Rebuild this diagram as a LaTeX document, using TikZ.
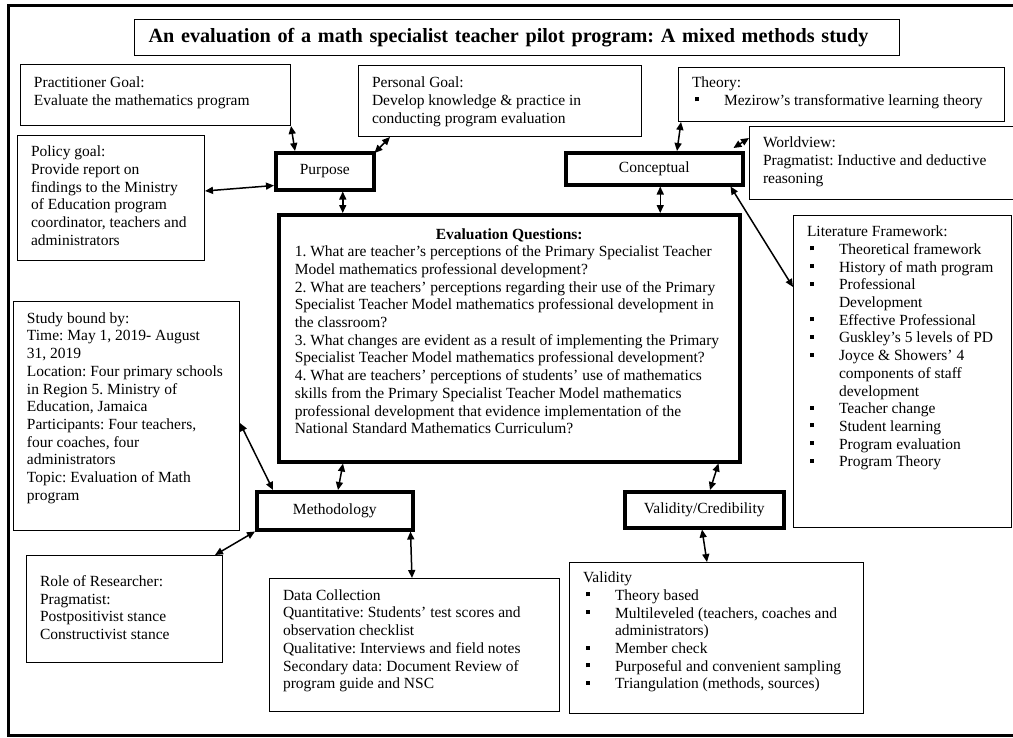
\documentclass[tikz,border=0pt]{standalone}
\usepackage{fontspec}
\setmainfont{Liberation Serif}
\usepackage{tikz}
\usetikzlibrary{arrows.meta}

% box text: width, height, top gap, text
\newcommand{\boxtext}[4]{\parbox[t][#2][t]{#1}{\frenchspacing\vspace*{#3}\raggedright #4}}
\newcommand{\bitem}[1]{\par\hangindent=32pt\hangafter=1\noindent\hspace*{3pt}\makebox[29pt][l]{\rule[4pt]{4pt}{4pt}}#1}

\tikzset{
	info/.style={draw=black, line width=1pt, anchor=north west, inner xsep=13.5pt, inner ysep=0pt, font=\fontsize{15.5}{17.7}\selectfont},
	head/.style={draw=black, line width=3.5pt, anchor=north west, inner sep=0pt, font=\fontsize{15.5}{17.7}\selectfont},
	dbl/.style={{Triangle[length=8pt,width=7pt]}-{Triangle[length=8pt,width=7pt]}, line width=1.5pt}
}

\begin{document}
\begin{tikzpicture}[x=1pt, y=-1pt]
	\useasboundingbox (0,0) rectangle (1013,737);
	\clip (0,0) rectangle (1013,737);
	\draw[line width=3pt] (8,5) rectangle (1030,735);
	\node[draw=black, line width=1pt, anchor=north west, minimum width=765pt, minimum height=36pt, text width=737pt, align=left, inner xsep=14pt, inner ysep=0pt, font=\bfseries\fontsize{20.2}{22}\selectfont] (title) at (134,19) {\frenchspacing An evaluation of a math specialist teacher pilot program: A mixed methods study};
	% goals
	\node[info] (prac) at (20,64) {\boxtext{243pt}{61pt}{12.5pt}{Practitioner Goal:\\Evaluate the mathematics program}};
	\node[info] (pers) at (358,65) {\boxtext{256pt}{71pt}{11.5pt}{Personal Goal:\\Develop knowledge \& practice in\\conducting program evaluation}};
	\node[info] (policy) at (17,135) {\boxtext{160pt}{125pt}{10.5pt}{Policy goal:\\Provide report on\\findings to the Ministry\\of Education program\\coordinator, teachers and\\administrators}};
	\node[head, minimum width=98pt, minimum height=37pt] (purpose) at (274,151) {Purpose};
	% conceptual side
	\node[info] (theory) at (678,67) {\boxtext{299pt}{54pt}{9.5pt}{Theory:\bitem{Mezirow's transformative learning theory}}};
	\node[info] (world) at (749,126) {\boxtext{253pt}{73pt}{10.5pt}{Worldview:\\Pragmatist: Inductive and deductive\\reasoning}};
	\node[head, minimum width=177pt, minimum height=32pt] (concept) at (564,151) {Conceptual};
	\node[info] (lit) at (793,215) {\boxtext{191pt}{312pt}{10.5pt}{Literature Framework:\bitem{Theoretical framework}\bitem{History of math program}\bitem{Professional\newline Development}\bitem{Effective Professional}\bitem{Guskley's 5 levels of PD}\bitem{Joyce \& Showers' 4\newline components of staff\newline development}\bitem{Teacher change}\bitem{Student learning}\bitem{Program evaluation}\bitem{Program Theory}}};
	% questions
	\node[head, inner xsep=16pt] (evalq) at (277,213) {\boxtext{429pt}{247pt}{13.5pt}{\centering\textbf{Evaluation Questions:}\par\raggedright
		1. What are teacher's perceptions of the Primary Specialist Teacher\\Model mathematics professional development?\\
		2. What are teachers' perceptions regarding their use of the Primary\\Specialist Teacher Model mathematics professional development in\\the classroom?\\
		3. What changes are evident as a result of implementing the Primary\\Specialist Teacher Model mathematics professional development?\\
		4. What are teachers' perceptions of students' use of mathematics\\skills from the Primary Specialist Teacher Model mathematics\\professional development that evidence implementation of the\\National Standard Mathematics Curriculum?}};
	% methodology side
	\node[info] (study) at (13,301) {\boxtext{199pt}{229pt}{11pt}{Study bound by:\\Time: May 1, 2019- August\\31, 2019\\Location: Four primary schools\\in Region 5. Ministry of\\Education, Jamaica\\Participants: Four teachers,\\four coaches, four\\administrators\\Topic: Evaluation of Math\\program}};
	\node[head, minimum width=156pt, minimum height=38pt] (method) at (255,490) {Methodology};
	\node[info] (role) at (26,555) {\boxtext{169pt}{107pt}{20pt}{Role of Researcher:\\Pragmatist:\\Postpositivist stance\\Constructivist stance}};
	\node[info] (data) at (269,578) {\boxtext{263pt}{133pt}{11pt}{Data Collection\\Quantitative: Students' test scores and\\observation checklist\\Qualitative: Interviews and field notes\\Secondary data: Document Review of\\program guide and NSC}};
	\node[head, minimum width=159pt, minimum height=36pt] (valcred) at (623,490) {Validity/Credibility};
	\node[info] (valid) at (569,562) {\boxtext{267pt}{151pt}{9.5pt}{Validity\bitem{Theory based}\bitem{Multileveled (teachers, coaches and\newline administrators)}\bitem{Member check}\bitem{Purposeful and convenient sampling}\bitem{Triangulation (methods, sources)}}};
	% links
	\path[dbl] (prac.south east) edge ([xshift=21pt]purpose.north west);
	\path[dbl] ([xshift=32pt]pers.south west) edge ([xshift=-1pt,yshift=-2pt]purpose.north east);
	\path[dbl] ([yshift=7pt]policy.east) edge ([yshift=6pt]purpose.south west);
	\path[dbl] ([xshift=18pt]purpose.south) edge ([xshift=18pt]purpose.south |- evalq.north);
	\path[dbl] ([xshift=3pt]theory.south west) edge ([xshift=113pt]concept.north west);
	\path[dbl] ([yshift=-12pt]world.north west) edge ([xshift=-11pt,yshift=3pt]concept.north east);
	\path[dbl] ([xshift=6pt]concept.south) edge ([xshift=6pt]concept.south |- evalq.north);
	\path[dbl] ([xshift=-14pt]concept.south east) edge ([yshift=-72pt]lit.north west);
	\path[dbl] ([yshift=-122pt]study.north east) edge ([xshift=18pt]method.north west);
	\path[dbl] ([xshift=66pt]evalq.south west) edge ([xshift=83pt]method.north west);
	\path[dbl] (method.south west) edge ([xshift=-8pt]role.north east);
	\path[dbl] ([xshift=-4pt]method.south east) edge ([xshift=143pt]data.north west);
	\path[dbl] ([xshift=-23pt]evalq.south east) edge ([xshift=87pt]valcred.north west);
	\path[dbl] ([xshift=79pt]valcred.south west) edge ([xshift=138pt]valid.north west);
\end{tikzpicture}
\end{document}
